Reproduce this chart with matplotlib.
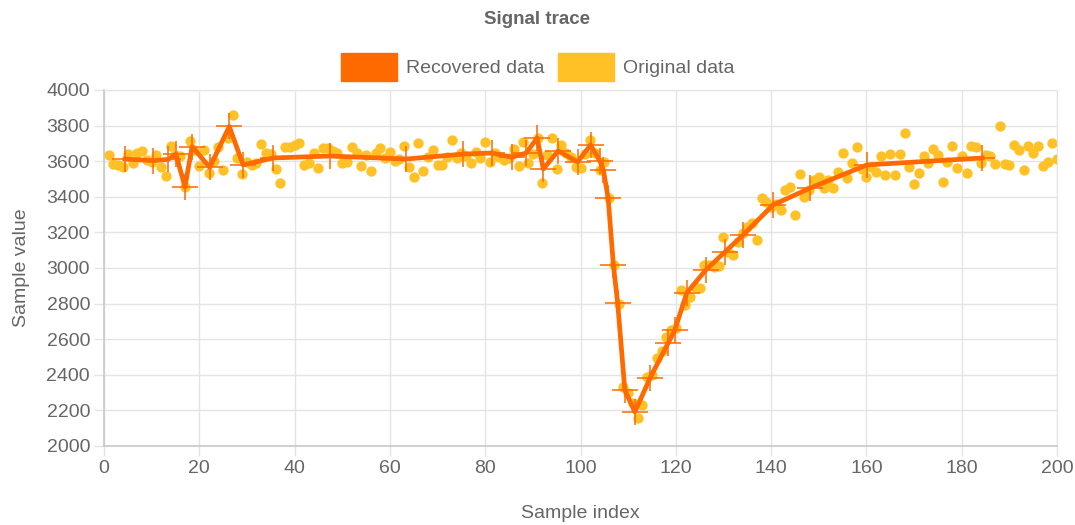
import matplotlib.pyplot as plt
from matplotlib.patches import Patch

plt.rcParams['font.family'] = ['Liberation Sans', 'DejaVu Sans']

# original samples, index 1..200
orig_x = list(range(1, 201))
orig_y = [
    3635, 3584, 3579, 3567, 3640, 3590, 3646, 3657, 3607, 3596,
    3635, 3567, 3517, 3685, 3635, 3630, 3455, 3713, 3663, 3573,
    3663, 3534, 3600, 3680, 3551, 3730, 3860, 3618, 3528, 3596,
    3579, 3590, 3697, 3646, 3640, 3556, 3477, 3680, 3680, 3691,
    3702, 3579, 3590, 3646, 3562, 3674, 3674, 3660, 3646, 3590,
    3596, 3680, 3646, 3573, 3635, 3545, 3646, 3674, 3618, 3652,
    3600, 3612, 3685, 3568, 3511, 3702, 3545, 3624, 3663, 3579,
    3579, 3624, 3719, 3618, 3646, 3630, 3590, 3652, 3618, 3708,
    3596, 3646, 3624, 3607, 3618, 3668, 3573, 3708, 3590, 3640,
    3730, 3477, 3635, 3730, 3556, 3691, 3646, 3624, 3568, 3562,
    3640, 3719, 3646, 3551, 3596, 3393, 3017, 2798, 2331, 2298,
    2240, 2157, 2230, 2387, 2400, 2494, 2534, 2612, 2652, 2663,
    2876, 2792, 2837, 2893, 2887, 3017, 3017, 3006, 3011, 3174,
    3090, 3073, 3146, 3196, 3230, 3253, 3157, 3393, 3371, 3343,
    3360, 3326, 3438, 3455, 3298, 3528, 3399, 3438, 3494, 3511,
    3449, 3494, 3449, 3539, 3646, 3506, 3590, 3680, 3556, 3511,
    3567, 3539, 3629, 3523, 3640, 3523, 3640, 3758, 3567, 3472,
    3534, 3629, 3590, 3668, 3635, 3483, 3596, 3685, 3562, 3629,
    3534, 3685, 3680, 3590, 3635, 3629, 3584, 3798, 3584, 3579,
    3691, 3663, 3551, 3685, 3646, 3685, 3573, 3596, 3702, 3612,
]

# recovered points
rec_x = [4.4, 10.3, 13.5, 15.1, 17.0, 18.5, 22.2, 26.3, 29.2, 35.5,
         47.4, 63.4, 75.4, 81.4, 85.6, 88.6, 90.9, 92.2, 95.3, 99.4,
         102.1, 104.1, 104.8, 105.8, 106.9, 107.8, 109.3, 111.4, 114.6, 118.4,
         119.8, 122.3, 126.3, 130.3, 134.1, 140.4, 148.2, 160.1, 184.3]
rec_y = [3612, 3603, 3610, 3640, 3455, 3682, 3565, 3795, 3579, 3618,
         3629, 3612, 3640, 3646, 3622, 3646, 3730, 3556, 3658, 3596,
         3691, 3600, 3551, 3393, 3017, 2803, 2315, 2191, 2382, 2579,
         2652, 2860, 2989, 3090, 3185, 3354, 3449, 3579, 3618]

orange = '#ff6a00'
yellow = '#ffc125'
text_col = '#666666'
grid_col = '#e4e4e4'

fig = plt.figure(figsize=(10.75, 5.25), dpi=100)
ax = fig.add_axes([0.0967, 0.1505, 0.8866, 0.6781])

ax.scatter(orig_x, orig_y, s=55, color=yellow, zorder=2, linewidths=0)
ax.plot(rec_x, rec_y, color=orange, lw=3.4, zorder=3, solid_joinstyle='round')
ax.plot(rec_x, rec_y, ls='none', marker='+', ms=19, mew=1.3, color=orange, alpha=0.85, zorder=4)

ax.set_xlim(0, 200)
ax.set_ylim(2000, 4000)
ax.set_xticks(range(0, 201, 20))
ax.set_yticks(range(2000, 4001, 200))
ax.grid(True, color=grid_col, lw=1)
ax.set_axisbelow(True)
ax.tick_params(colors=grid_col, labelcolor=text_col, labelsize=14, length=7, width=1, pad=3)
for side in ['top', 'right']:
    ax.spines[side].set_color(grid_col)
for side in ['left', 'bottom']:
    ax.spines[side].set_color('#c8c8c8')
    ax.spines[side].set_linewidth(1.2)

ax.set_xlabel('Sample index', color=text_col, fontsize=14, labelpad=20)
ax.set_ylabel('Sample value', color=text_col, fontsize=14, labelpad=12)

fig.suptitle('Signal trace', x=0.5, y=0.98, fontsize=13.5, fontweight='bold', color=text_col)

handles = [Patch(facecolor=orange, edgecolor=orange), Patch(facecolor=yellow, edgecolor=yellow)]
fig.legend(handles, ['Recovered data', 'Original data'], loc='center', bbox_to_anchor=(0.5, 0.872),
           ncol=2, frameon=False, fontsize=14, handlelength=2.9, handleheight=1.85,
           handletextpad=0.45, columnspacing=0.7, labelcolor=text_col)

fig.savefig('out.png', dpi=100)
